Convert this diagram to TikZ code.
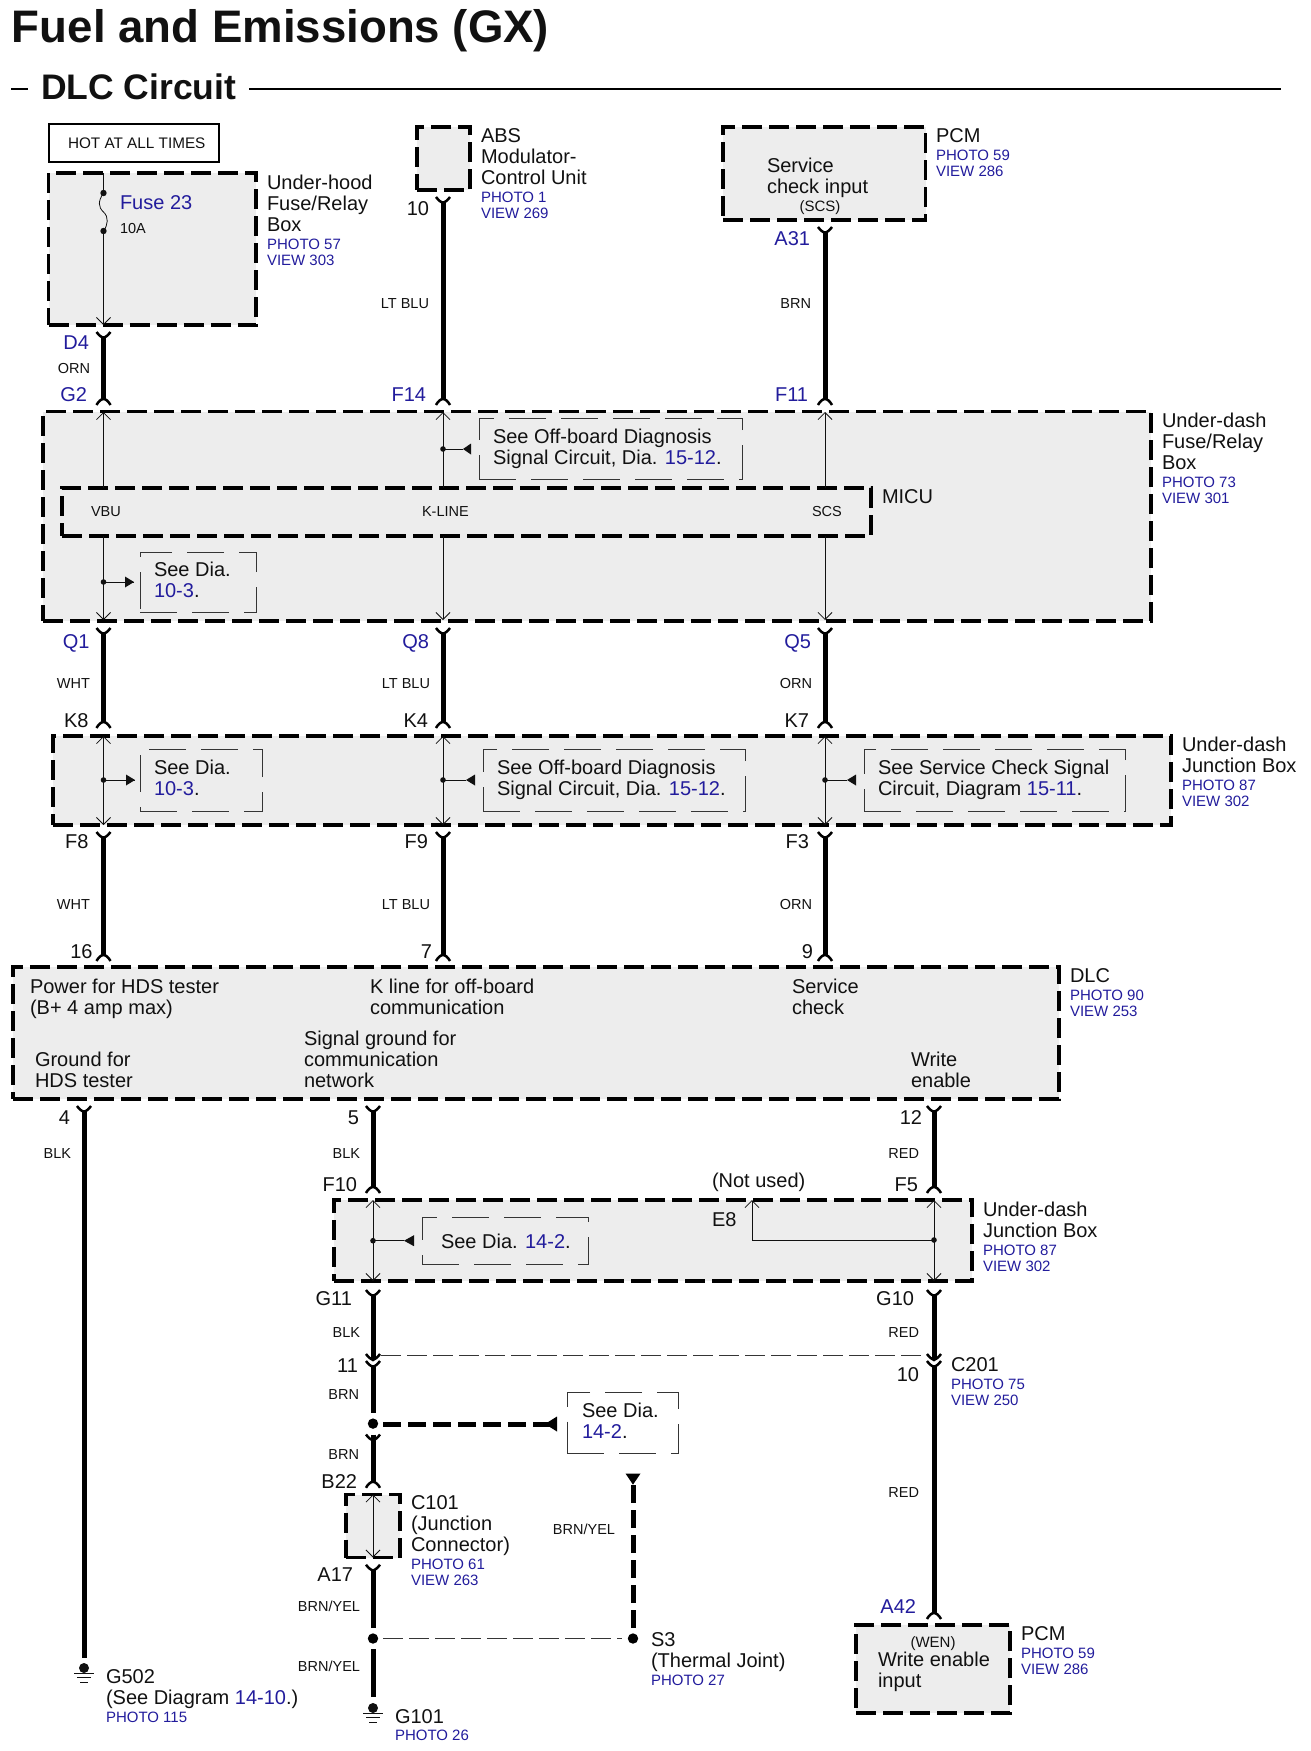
\documentclass[tikz,border=0pt]{standalone}
\usepackage{fontspec}
\setmainfont{Liberation Sans}
\usetikzlibrary{arrows.meta}
\definecolor{dblue}{HTML}{221C9C}
\definecolor{boxg}{HTML}{EDEDED}
\definecolor{ink}{HTML}{111111}
\newcommand{\tl}[1]{\begin{tabular}[t]{@{}l@{}}#1\end{tabular}}
\newcommand{\blu}{\color{dblue}\fontsize{15}{16.5}\selectfont}
\newcommand{\bl}[1]{{\color{dblue}#1}}
\newcommand{\phv}[2]{\\[-3pt]\blu #1\\[-4.5pt]\blu #2}
\newcommand{\harn}[4]{\coordinate (#1a) at (#2,#3); \coordinate (#1b) at (#2,#4);
  \draw[hw] ([yshift=-4pt]#1a) -- (#1b); \pic at (#1a) {forktop}; \pic at (#1b) {forkbot};}
\newcommand{\thin}[5]{\coordinate (#1a) at (#2,#3); \coordinate (#1b) at (#2,#4); \draw[tw,#5] (#1a) -- (#1b);}
\newcommand{\stub}[5]{\coordinate (#1d) at (#2,#3); \coordinate (#1t) at (#4,#3);
  \fill[ink] (#1d) circle (2.8);
  \draw[tw] (#1d) -- (#1t);
  \fill[ink] (#1t) -- (#5,#3-5.5) -- (#5,#3+5.5) -- cycle;}
\newcommand{\grnd}[3]{\coordinate (#1) at (#2,#3);
  \fill[ink] (#1) circle (5);
  \draw[tw] (#2-10,#3+5) -- (#2+10,#3+5) (#2-7,#3+9.5) -- (#2+7,#3+9.5) (#2-4,#3+14) -- (#2+4,#3+14);}
\tikzset{
  x=1pt,y=-1pt,
  tipb/.tip={Straight Barb[length=7pt,width=14pt,line width=.8pt]},
  bxd/.style={draw=black,fill=boxg,line width=3.2pt,dash pattern=on 20pt off 7pt,anchor=north west,inner sep=0pt,outer sep=0pt},
  hotb/.style={draw=black,line width=1.3pt,anchor=north west,inner sep=0pt,outer sep=0pt},
  seeb/.style={draw=ink!85,line width=.8pt,dash pattern=on 37pt off 15pt,anchor=north west,inner sep=0pt,outer sep=0pt},
  hw/.style={draw=black,line width=5pt},
  hd/.style={draw=black,line width=5pt,dash pattern=on 18pt off 7pt},
  tw/.style={draw=ink,line width=.8pt},
  td/.style={draw=ink!85,line width=.8pt,dash pattern=on 20pt off 6pt},
  fk/.style={draw=black,line width=2.5pt},
  forktop/.pic={\draw[fk] (-7,0) .. controls (-4,4) and (-2,5) .. (0,6) .. controls (2,5) and (4,4) .. (7,0);},
  forkbot/.pic={\draw[fk] (-7,6) .. controls (-5,2) and (-2,0) .. (0,0) .. controls (2,0) and (5,2) .. (7,6);},
  lw/.style={anchor=base west,inner sep=0pt,outer sep=0pt,text=ink,font=\fontsize{20}{21}\selectfont},
  pin/.style={anchor=base east,inner sep=0pt,outer sep=0pt,text=ink,font=\fontsize{20}{21}\selectfont},
  pinb/.style={pin,text=dblue},
  clr/.style={anchor=base east,inner sep=0pt,outer sep=0pt,text=ink,font=\fontsize{14.5}{16}\selectfont},
  sm/.style={anchor=base west,inner sep=0pt,outer sep=0pt,text=ink,font=\fontsize{14.5}{16}\selectfont},
  smc/.style={anchor=base,inner sep=0pt,outer sep=0pt,text=ink,font=\fontsize{15}{16}\selectfont},
}
\begin{document}
\begin{tikzpicture}
\useasboundingbox (0,0) rectangle (1310,1751);
% title
\node[lw,font=\bfseries\fontsize{45.6}{47}\selectfont] (title) at (12,42) {Fuel and Emissions (GX)};
\node[lw,font=\bfseries\fontsize{35.5}{38}\selectfont] (sub) at (41,99) {DLC Circuit};
\coordinate (d1) at (11,89); \coordinate (d2) at (27.5,89);
\coordinate (r1) at (249,89); \coordinate (r2) at (1281,89);
\draw[line width=2.2pt] (d1) -- (d2) (r1) -- (r2);
% boxes
\node[hotb,minimum width=170pt,minimum height=38pt] (hot) at (49,124) {};
\node[bxd,minimum width=207.5pt,minimum height=152pt] (fuse) at (48.5,173) {};
\node[bxd,minimum width=53pt,minimum height=63pt] (abs) at (417,127) {};
\node[bxd,minimum width=202.5pt,minimum height=93pt] (pcmA) at (723,127) {};
\node[bxd,minimum width=1108pt,minimum height=209.5pt] (fr) at (43,411.5) {};
\node[bxd,minimum width=809pt,minimum height=48pt] (micu) at (62,488) {};
\node[bxd,minimum width=1118pt,minimum height=89pt] (jb1) at (53,736) {};
\node[bxd,minimum width=1046pt,minimum height=132pt] (dlc) at (13,967) {};
\node[bxd,minimum width=638pt,minimum height=81pt] (jb2) at (334,1200) {};
\node[bxd,minimum width=54pt,minimum height=63pt] (c101) at (346,1494.5) {};
\node[bxd,minimum width=154pt,minimum height=88pt] (pcmB) at (856,1625) {};
% see boxes
\node[seeb,minimum width=263pt,minimum height=61pt] (s1) at (479,418) {};
\node[seeb,minimum width=116pt,minimum height=60pt] (s2) at (140,552) {};
\node[seeb,minimum width=122pt,minimum height=62pt] (s3) at (140,749) {};
\node[seeb,minimum width=262pt,minimum height=62pt] (s4) at (483,749) {};
\node[seeb,minimum width=261pt,minimum height=62pt] (s5) at (864,749) {};
\node[seeb,minimum width=166pt,minimum height=46.5pt] (s6) at (422,1217.5) {};
\node[seeb,minimum width=111pt,minimum height=61pt] (s7) at (567,1392.5) {};
% thin wires
\coordinate (fa) at (103.5,173); \coordinate (fd1) at (103.5,193); \coordinate (fd2) at (103.5,231); \coordinate (fb) at (103.5,325);
\draw[tw] (fa) -- (fd1) .. controls (98,201) and (98,207) .. (103.5,212) .. controls (109,217) and (108,225) .. (fd2);
\draw[tw,-tipb] (fd2) -- (fb);
\fill[ink] (fd1) circle (3.2) (fd2) circle (3.2);
\thin{ta}{103.5}{412}{488}{tipb-}
\thin{tb}{443}{412}{488}{tipb-}
\thin{tc}{825}{412}{488}{tipb-}
\thin{td1}{103.5}{536}{620}{-tipb}
\thin{td2}{443}{536}{620}{-tipb}
\thin{td3}{825}{536}{620}{-tipb}
\thin{te1}{103.5}{736}{825}{tipb-tipb}
\thin{te2}{443}{736}{825}{tipb-tipb}
\thin{te3}{825}{736}{825}{tipb-tipb}
\thin{tf1}{373}{1200}{1281}{tipb-tipb}
\thin{tf2}{934}{1200}{1281}{tipb-tipb}
\thin{tg}{373}{1494.5}{1557.5}{tipb-tipb}
\stub{q1}{443}{449}{463}{471}
\stub{q2}{103.5}{582}{134}{125}
\stub{q3}{103.5}{780}{135}{126}
\stub{q4}{443}{780}{466}{475}
\stub{q5}{825}{780}{847}{856}
\stub{q6}{373}{1240.7}{404}{414}
\coordinate (e8j) at (934,1240); \coordinate (e8c) at (752,1240); \coordinate (e8t) at (752,1200);
\fill[ink] (e8j) circle (2.8);
\draw[tw,-tipb] (e8j) -- (e8c) -- (e8t);
% harnesses
\harn{hA}{103.5}{332}{399}
\harn{hB}{443}{197}{399}
\harn{hC}{825}{227}{399}
\harn{hD}{103.5}{628}{722}
\harn{hE}{443}{628}{722}
\harn{hF}{825}{628}{722}
\harn{hG}{103.5}{832}{955}
\harn{hH}{443}{832}{955}
\harn{hI}{825}{832}{955}
\harn{hJ}{373}{1106}{1187}
\harn{hK}{934}{1106}{1187}
% G502 wire
\coordinate (g5a) at (84,1106);
\grnd{g5}{84}{1668}
\pic at (g5a) {forktop};
\draw[hw] ([yshift=-4pt]g5a) -- (84,1658);
% left lower harness
\coordinate (la) at (373,1290); \coordinate (lb) at (373,1360);
\pic at (la) {forktop};
\draw[hw] ([yshift=-4pt]la) -- (lb);
\pic at (373,1354) {forktop};
\pic at (373,1361) {forktop};
\coordinate (brnj) at (373,1423.6);
\fill[black] (brnj) circle (5.2);
\draw[hw] (373,1365) -- (373,1412.7);
\harn{hL}{373}{1434.5}{1481.8}
\draw[hw] (373,1434.5) -- (373,1439);
\pic at (373,1564.7) {forktop};
\coordinate (sj) at (373,1638.5);
\fill[black] (sj) circle (5.2);
\draw[hw] (373,1569) -- (373,1627.5);
\draw[hw] (373,1649) -- (373,1697);
\grnd{g1}{373}{1708}
% right lower harness
\coordinate (ra) at (934,1290); \coordinate (rb) at (934,1360);
\pic at (ra) {forktop};
\draw[hw] ([yshift=-4pt]ra) -- (rb);
\pic at (934,1354) {forktop};
\pic at (934,1361) {forktop};
\coordinate (rc) at (934,1365); \coordinate (rd) at (934,1613);
\draw[hw] (rc) -- (rd);
\pic at (rd) {forkbot};
% C201 thin dashed
\draw[td] (381,1355.5) -- (926,1355.5);
% thick dashed to see box
\coordinate (tt) at (545,1424);
\draw[hd] (383,1424) -- (557,1424);
\fill[black] (tt) -- (557,1416.5) -- (557,1431.5) -- cycle;
% S3
\coordinate (s3j) at (633,1638.5); \coordinate (s3t) at (633,1484.7);
\fill[black] (s3j) circle (5.2);
\draw[hd] (633,1627.5) -- (s3t);
\fill[black] (s3t) -- (625.5,1473.5) -- (640.5,1473.5) -- cycle;
\draw[td] (383,1638.5) -- (622,1638.5);
% box labels
\node[sm,font=\fontsize{15.3}{18}\selectfont] (hott) at (68,148.5) {HOT AT ALL TIMES};
\node[lw,text=dblue] (f23) at (120,209) {Fuse 23};
\node[sm] (a10) at (120,233) {10A};
\node[lw] (lfuse) at (267,189) {\tl{Under-hood\\Fuse/Relay\\Box\phv{PHOTO 57}{VIEW 303}}};
\node[lw] (labs) at (481,142) {\tl{ABS\\Modulator-\\Control Unit\phv{PHOTO 1}{VIEW 269}}};
\node[lw] (lpcmA) at (936,142) {\tl{PCM\phv{PHOTO 59}{VIEW 286}}};
\node[lw] (svc) at (767,172) {\tl{Service\\check input}};
\node[smc] (scs) at (820,211) {(SCS)};
\node[lw] (lfr) at (1162,427) {\tl{Under-dash\\Fuse/Relay\\Box\phv{PHOTO 73}{VIEW 301}}};
\node[lw] (lmicu) at (882,503) {MICU};
\node[sm] (vbu) at (91,516) {VBU};
\node[sm] (kl) at (422,516) {K-LINE};
\node[sm] (scsb) at (812,516) {SCS};
\node[lw] (ts1) at (493,443) {\tl{See Off-board Diagnosis\\Signal Circuit, Dia. \bl{15-12}.}};
\node[lw] (ts2) at (154,576) {\tl{See Dia.\\\bl{10-3}.}};
\node[lw] (ts3) at (154,774) {\tl{See Dia.\\\bl{10-3}.}};
\node[lw] (ts4) at (497,774) {\tl{See Off-board Diagnosis\\Signal Circuit, Dia. \bl{15-12}.}};
\node[lw] (ts5) at (878,774) {\tl{See Service Check Signal\\Circuit, Diagram \bl{15-11}.}};
\node[lw] (ljb1) at (1182,751) {\tl{Under-dash\\Junction Box\phv{PHOTO 87}{VIEW 302}}};
\node[lw] (d1t) at (30,993) {\tl{Power for HDS tester\\(B+ 4 amp max)}};
\node[lw] (d2t) at (370,993) {\tl{K line for off-board\\communication}};
\node[lw] (d3t) at (792,993) {\tl{Service\\check}};
\node[lw] (d4t) at (35,1066) {\tl{Ground for\\HDS tester}};
\node[lw] (d5t) at (304,1045) {\tl{Signal ground for\\communication\\network}};
\node[lw] (d6t) at (911,1066) {\tl{Write\\enable}};
\node[lw] (ldlc) at (1070,982) {\tl{DLC\phv{PHOTO 90}{VIEW 253}}};
\node[lw] (ts6) at (441,1248) {See Dia. \bl{14-2}.};
\node[lw] (e8) at (712,1226) {E8};
\node[lw] (nu) at (712,1187) {(Not used)};
\node[lw] (ljb2) at (983,1216) {\tl{Under-dash\\Junction Box\phv{PHOTO 87}{VIEW 302}}};
\node[lw] (ts7) at (582,1417.5) {\tl{See Dia.\\\bl{14-2}.}};
\node[lw] (lc201) at (951,1371) {\tl{C201\phv{PHOTO 75}{VIEW 250}}};
\node[lw] (lc101) at (411,1509) {\tl{C101\\(Junction\\Connector)\phv{PHOTO 61}{VIEW 263}}};
\node[lw] (ls3) at (651,1646.5) {\tl{S3\\(Thermal Joint)\\[-3pt]\blu PHOTO 27}};
\node[smc] (wen) at (933,1647) {(WEN)};
\node[lw] (wei) at (878,1666) {\tl{Write enable\\input}};
\node[lw] (lpcmB) at (1021,1640) {\tl{PCM\phv{PHOTO 59}{VIEW 286}}};
\node[lw] (lg5) at (106,1683) {\tl{G502\\(See Diagram \bl{14-10}.)\\[-3pt]\blu PHOTO 115}};
\node[lw] (lg1) at (395,1723) {\tl{G101\\[-4pt]\blu PHOTO 26}};
% pin labels
\node[pinb] at (89,349) {D4};
\node[pinb] at (87,401) {G2};
\node[pinb] at (426,401) {F14};
\node[pinb] at (808,401) {F11};
\node[pinb] at (810,245) {A31};
\node[pin] at (429,215) {10};
\node[pinb] at (89.5,648) {Q1};
\node[pinb] at (429,648) {Q8};
\node[pinb] at (811,648) {Q5};
\node[pin] at (88.5,727) {K8};
\node[pin] at (428,727) {K4};
\node[pin] at (809,727) {K7};
\node[pin] at (88.5,848) {F8};
\node[pin] at (428,848) {F9};
\node[pin] at (809,848) {F3};
\node[pin] at (92.5,958) {16};
\node[pin] at (432,958) {7};
\node[pin] at (813,958) {9};
\node[pin] at (70,1124) {4};
\node[pin] at (359,1124) {5};
\node[pin] at (922,1124) {12};
\node[pin] at (357,1191) {F10};
\node[pin] at (918,1191) {F5};
\node[pin] at (352,1305) {G11};
\node[pin] at (914,1305) {G10};
\node[pin] at (358,1372) {11};
\node[pin] at (919,1381) {10};
\node[pin] at (357,1488) {B22};
\node[pin] at (353,1581) {A17};
\node[pinb] at (916,1613) {A42};
% colour labels
\node[clr] at (90,373) {ORN};
\node[clr] at (429,308) {LT BLU};
\node[clr] at (811,308) {BRN};
\node[clr] at (90,688) {WHT};
\node[clr] at (430,688) {LT BLU};
\node[clr] at (812,688) {ORN};
\node[clr] at (90,909) {WHT};
\node[clr] at (430,909) {LT BLU};
\node[clr] at (812,909) {ORN};
\node[clr] at (71,1158) {BLK};
\node[clr] at (360,1158) {BLK};
\node[clr] at (919,1158) {RED};
\node[clr] at (360,1337) {BLK};
\node[clr] at (919,1337) {RED};
\node[clr] at (359,1399) {BRN};
\node[clr] at (359,1459) {BRN};
\node[clr] at (919,1497) {RED};
\node[clr] at (360,1611) {BRN/YEL};
\node[clr] at (360,1671) {BRN/YEL};
\node[clr] at (615,1534) {BRN/YEL};
\end{tikzpicture}
\end{document}
